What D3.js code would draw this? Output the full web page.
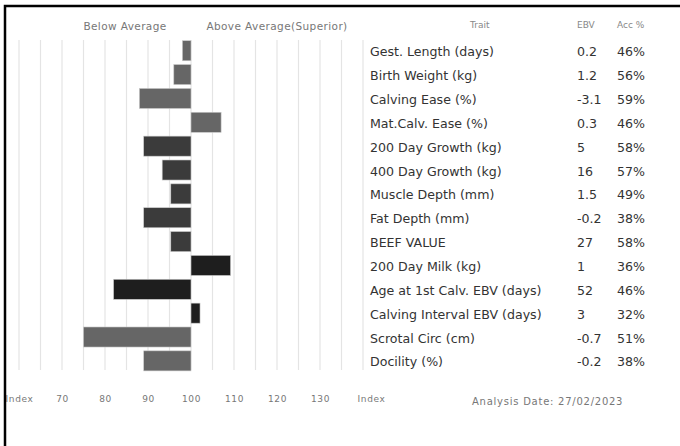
<!DOCTYPE html>
<html>
<head>
<meta charset="utf-8">
<script src="https://cdn.jsdelivr.net/npm/d3@7"></script>
<style>
  body { margin: 0; background: #fff; }
  svg { display: block; }
</style>
</head>
<body>
<div id="chart"></div>
<script>
window.onload = function () {

    var w = 680;
    var h = 446;

    // Data
    var traits = ["Gest. Length (days)", "Birth Weight (kg)", "Calving Ease (%)", "Mat.Calv. Ease (%)",
        "200 Day Growth (kg)", "400 Day Growth (kg)", "Muscle Depth (mm)", "Fat Depth (mm)",
        "BEEF VALUE", "200 Day Milk (kg)", "Age at 1st Calv. EBV (days)", "Calving Interval EBV (days)",
        "Scrotal Circ (cm)", "Docility (%)"];
    var indexValues = [98, 96, 88, 107, 89, 93.3, 95.3, 89, 95.3, 109.2, 82, 102.1, 75, 89];
    var ebv = ["0.2", "1.2", "-3.1", "0.3", "5", "16", "1.5", "-0.2", "27", "1", "52", "3", "-0.7", "-0.2"];
    var acc = ["46%", "56%", "59%", "46%", "58%", "57%", "49%", "38%", "58%", "36%", "46%", "32%", "51%", "38%"];
    var groups = [0, 0, 0, 0, 1, 1, 1, 1, 1, 2, 2, 2, 0, 0];
    var groupColors = ["#666666", "#3b3b3b", "#1e1e1e"];
    var tickValues = [60, 70, 80, 90, 100, 110, 120, 130, 140];
    var gridValues = d3.range(60, 141, 5);

    var rows = traits.map((t, i) => ({ trait: t, index: indexValues[i], ebv: ebv[i], acc: acc[i], group: groups[i] }));

    var svg = d3.select("#chart")
        .append("svg")
        .attr("width", w)
        .attr("height", h);

    var x = d3.scaleLinear().domain([60, 140]).range([19, 363]);
    var y = d3.scaleBand().domain(traits).range([38.8, 372.8]).paddingInner(0.16).paddingOuter(0.08);

    // Grid
    svg.append("g")
        .selectAll("line")
        .data(gridValues)
        .enter()
        .append("line")
        .attr("x1", d => x(d))
        .attr("x2", d => x(d))
        .attr("y1", 40)
        .attr("y2", 370)
        .attr("stroke", "#e4e4e4")
        .attr("stroke-width", 1.2);

    // Bars
    svg.append("g")
        .selectAll("rect")
        .data(rows)
        .enter()
        .append("rect")
        .attr("x", d => x(Math.min(100, d.index)))
        .attr("y", d => y(d.trait))
        .attr("width", d => Math.abs(x(d.index) - x(100)))
        .attr("height", y.bandwidth())
        .attr("fill", d => groupColors[d.group])
        .attr("stroke", "#c8c8c8")
        .attr("stroke-width", 0.6);

    // Header labels
    var smallFont = "10.5px 'DejaVu Sans'";
    svg.append("text").attr("x", 125).attr("y", 30).attr("text-anchor", "middle")
        .style("font", smallFont).style("letter-spacing", "0.4px").attr("fill", "#777").text("Below Average");
    svg.append("text").attr("x", 277).attr("y", 30).attr("text-anchor", "middle")
        .style("font", smallFont).style("letter-spacing", "0.4px").attr("fill", "#777").text("Above Average(Superior)");

    // Axis
    var axis = d3.axisBottom(x)
        .tickValues(tickValues)
        .tickSize(0)
        .tickFormat(d => (d === 60 || d === 140) ? "Index" : d);

    var ax = svg.append("g")
        .attr("transform", "translate(0,393)")
        .call(axis);
    ax.select(".domain").remove();
    ax.selectAll("text")
        .style("font", "9px 'DejaVu Sans'")
        .style("letter-spacing", "0.6px")
        .attr("fill", "#777");
    ax.selectAll(".tick").filter(d => d === 140).select("text").attr("dx", 8);

    // Table
    var colTrait = 370, colEbv = 577, colAcc = 617;
    var headFont = "9px 'DejaVu Sans'";
    svg.append("text").attr("x", 470).attr("y", 28).style("font", headFont).attr("fill", "#888").text("Trait");
    svg.append("text").attr("x", colEbv).attr("y", 28).style("font", headFont).attr("fill", "#888").text("EBV");
    svg.append("text").attr("x", colAcc).attr("y", 28).style("font", headFont).attr("fill", "#888").text("Acc %");

    var rowFont = "12.6px 'DejaVu Sans'";
    var tr = svg.append("g").selectAll("g")
        .data(rows)
        .enter()
        .append("g")
        .attr("transform", d => "translate(0," + (y(d.trait) + y.bandwidth() / 2 + 5.5) + ")");

    tr.append("text").attr("x", colTrait).style("font", rowFont).attr("fill", "#333").text(d => d.trait);
    tr.append("text").attr("x", colEbv).style("font", rowFont).attr("fill", "#333").text(d => d.ebv);
    tr.append("text").attr("x", colAcc).style("font", rowFont).attr("fill", "#333").text(d => d.acc);

    // Footer
    svg.append("text").attr("x", 472).attr("y", 405)
        .style("font", "10px 'DejaVu Sans'").style("letter-spacing", "0.75px").attr("fill", "#777")
        .text("Analysis Date: 27/02/2023");

    // Frame
    svg.append("path")
        .attr("d", "M5,446 V6 H680")
        .attr("fill", "none")
        .attr("stroke", "#000")
        .attr("stroke-width", 2.5);
};
</script>
</body>
</html>
